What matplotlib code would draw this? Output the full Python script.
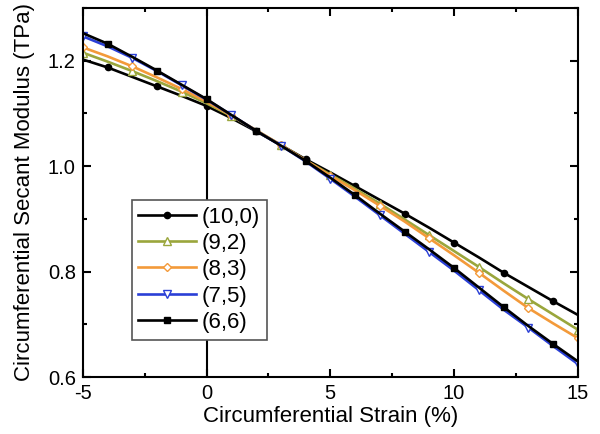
import numpy as np
import matplotlib
matplotlib.use('Agg')
import matplotlib.pyplot as plt
from matplotlib.ticker import MultipleLocator

plt.rcParams['font.family'] = ['Liberation Sans', 'DejaVu Sans']
plt.rcParams['axes.unicode_minus'] = False

strain = list(range(-5, 16))  # %

mod_10_0 = [1.202, 1.187, 1.169, 1.151, 1.133, 1.114, 1.091, 1.066, 1.040, 1.013, 0.988,
            0.962, 0.936, 0.910, 0.883, 0.855, 0.827, 0.798, 0.771, 0.744, 0.718]
mod_9_2 = [1.215, 1.198, 1.180, 1.161, 1.141, 1.119, 1.095, 1.068, 1.040, 1.011, 0.984,
           0.957, 0.929, 0.899, 0.869, 0.839, 0.809, 0.778, 0.748, 0.719, 0.690]
mod_8_3 = [1.225, 1.208, 1.189, 1.168, 1.146, 1.122, 1.096, 1.068, 1.040, 1.011, 0.982,
           0.954, 0.925, 0.895, 0.863, 0.831, 0.798, 0.764, 0.731, 0.702, 0.674]
mod_7_5 = [1.246, 1.227, 1.205, 1.180, 1.153, 1.126, 1.097, 1.067, 1.039, 1.009, 0.976,
           0.942, 0.907, 0.872, 0.837, 0.802, 0.765, 0.728, 0.694, 0.659, 0.625]
mod_6_6 = [1.252, 1.232, 1.207, 1.181, 1.154, 1.127, 1.097, 1.067, 1.039, 1.010, 0.978,
           0.945, 0.910, 0.876, 0.842, 0.807, 0.770, 0.733, 0.697, 0.663, 0.630]

fig = plt.figure(figsize=(6, 4.34), dpi=100)
ax = fig.add_axes([0.138, 0.131, 0.825, 0.851])

ax.axvline(0, color='k', lw=1.5, zorder=1)

lw = 1.9
ax.plot(strain, mod_10_0, color='k', lw=lw, marker='o', ms=4.5, markevery=(1, 2),
        label='(10,0)')
ax.plot(strain, mod_9_2, color='#9aa63c', lw=lw, marker='^', ms=6, mfc='w',
        markevery=(0, 2), label='(9,2)')
ax.plot(strain, mod_8_3, color='#f39a3a', lw=lw, marker='D', ms=4.5, mfc='w',
        markevery=(0, 2), label='(8,3)')
ax.plot(strain, mod_7_5, color='#2a3fd6', lw=lw, marker='v', ms=6, mfc='w',
        markevery=(0, 2), label='(7,5)')
ax.plot(strain, mod_6_6, color='k', lw=lw, marker='s', ms=4.5, markevery=(1, 2),
        label='(6,6)')

ax.set_xlim(-5, 15)
ax.set_ylim(0.6, 1.3)
ax.set_xticks([-5, 0, 5, 10, 15])
ax.set_yticks([0.6, 0.8, 1.0, 1.2])
ax.xaxis.set_minor_locator(MultipleLocator(2.5))
ax.yaxis.set_minor_locator(MultipleLocator(0.1))
ax.tick_params(which='both', direction='in', top=True, right=True, width=1.5,
               labelsize=14.5)
ax.tick_params(which='major', length=6, pad=5)
ax.tick_params(which='minor', length=3)
for s in ax.spines.values():
    s.set_linewidth(1.5)

ax.set_xlabel('Circumferential Strain (%)', fontsize=16, labelpad=2)
ax.set_ylabel('Circumferential Secant Modulus (TPa)', fontsize=16, labelpad=9)

leg = ax.legend(loc='upper left', bbox_to_anchor=(0.099, 0.48), fontsize=16,
                handlelength=2.6, handletextpad=0.25, labelspacing=0.24,
                borderpad=0.3, borderaxespad=0, fancybox=False, framealpha=1)
leg.get_frame().set_edgecolor('#555555')
leg.get_frame().set_linewidth(1.2)

fig.savefig('out.png', dpi=100)
